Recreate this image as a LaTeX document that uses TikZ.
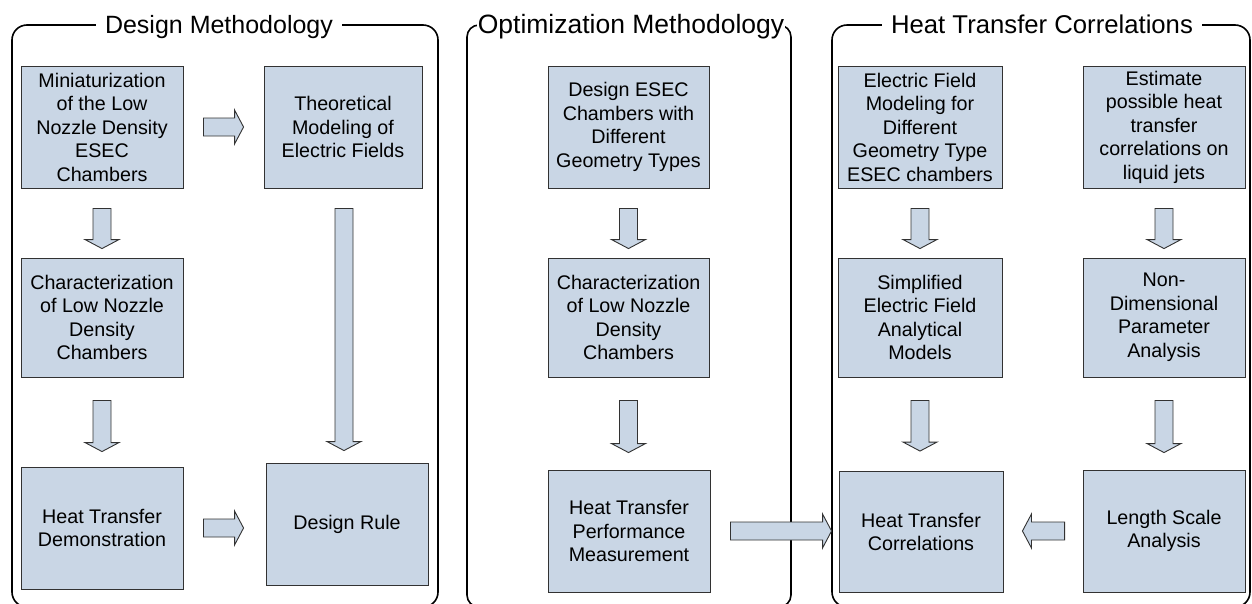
\documentclass[tikz,border=0pt]{standalone}
\usepackage{fontspec}
\setmainfont{Liberation Sans}
\usetikzlibrary{calc}

\definecolor{boxfill}{RGB}{201,214,229}
\definecolor{boxline}{RGB}{50,50,50}

\tikzset{
  panel/.style={draw=black, line width=1.6pt, rounded corners=15pt},
  paneltitle/.style={fill=white, anchor=base, inner xsep=9pt, inner ysep=2pt,
    font=\fontsize{25}{30}\selectfont},
  box/.style 2 args={draw=boxline, fill=boxfill, line width=0.9pt, align=center,
    inner sep=0pt, minimum width=#1, minimum height=#2,
    font=\fontsize{19.7}{23.5}\selectfont},
  blockarrow/.style={draw=boxline, fill=boxfill, line width=0.9pt, line join=miter}
}

% downward block arrow: body from #1 to the tip at #2 (x taken from #1)
\newcommand{\downblock}[2]{%
  \draw[blockarrow] let \p1=(#1), \p2=(#2) in
    ({\x1-9pt},\y1) -- ({\x1-9pt},{\y2+9pt}) -- ({\x1-17pt},{\y2+9pt})
    -- (\x1,\y2) -- ({\x1+17pt},{\y2+9pt}) -- ({\x1+9pt},{\y2+9pt})
    -- ({\x1+9pt},\y1) -- cycle;}

% sideways block arrow: body from #1 to the tip at #2 (y taken from #1);
% #3 = 1 points right, -1 points left
\newcommand{\sideblock}[3]{%
  \draw[blockarrow] let \p1=(#1), \p2=(#2) in
    (\x1,{\y1-9pt}) -- ({\x2-(#3)*9pt},{\y1-9pt}) -- ({\x2-(#3)*9pt},{\y1-17pt})
    -- (\x2,\y1) -- ({\x2-(#3)*9pt},{\y1+17pt}) -- ({\x2-(#3)*9pt},{\y1+9pt})
    -- (\x1,{\y1+9pt}) -- cycle;}

\begin{document}
\begin{tikzpicture}[x=1pt, y=-1pt]
\useasboundingbox (0,0) rectangle (1252,603);
\clip (0,0) rectangle (1252,603);

% panels
\draw[panel] (12,25) rectangle (438,607);
\draw[panel, rounded corners=12pt] (467,25) rectangle (791,607);
\draw[panel] (832,25) rectangle (1250,607);

\node[paneltitle] (T1) at (219,33) {Design Methodology};
\node[paneltitle, inner xsep=1pt, font=\fontsize{26.5}{30}\selectfont] (T2) at (631,33) {Optimization Methodology};
\node[paneltitle, font=\fontsize{25.7}{30}\selectfont] (T3) at (1042,33) {Heat Transfer Correlations};

% design methodology
\node[box={162pt}{122pt}] (A1) at (102,127) {Miniaturization\\of the Low\\Nozzle Density\\ESEC\\Chambers};
\node[box={158pt}{122pt}] (A2) at (343,127) {Theoretical\\Modeling of\\Electric Fields};
\node[box={162pt}{119pt}] (A3) at (102,317.5) {Characterization\\of Low Nozzle\\Density\\Chambers};
\node[box={162pt}{122pt}] (A4) at (102,528) {Heat Transfer\\Demonstration};
\node[box={162pt}{122pt}] (A5) at (347,524) {Design Rule};

% optimization methodology
\node[box={161pt}{122pt}] (B1) at (628.5,127) {Design ESEC\\Chambers with\\Different\\Geometry Types};
\node[box={161pt}{119pt}] (B2) at (628.5,317.5) {Characterization\\of Low Nozzle\\Density\\Chambers};
\node[box={162pt}{122pt}] (B3) at (629,531) {Heat Transfer\\Performance\\Measurement};

% heat transfer correlations
\node[box={164pt}{122pt}] (C1) at (920,127) {Electric Field\\Modeling for\\Different\\Geometry Type\\ESEC chambers};
\node[box={162pt}{122pt}] (C2) at (1164,127) {Estimate\\possible heat\\transfer\\correlations on\\liquid jets};
\node[box={164pt}{119pt}] (C3) at (920,317.5) {Simplified\\Electric Field\\Analytical\\Models};
\node[box={162pt}{119pt}] (C4) at (1164,317.5) {Non-\\Dimensional\\Parameter\\Analysis};
\node[box={164pt}{121pt}] (C5) at (921,532) {Heat Transfer\\Correlations};
\node[box={162pt}{122pt}] (C6) at (1164,531) {Length Scale\\Analysis};

% connectors
\sideblock{$(A1.east)+(20,0)$}{$(A2.west)+(-20,0)$}{1}
\sideblock{$(A4.east)+(20,0)$}{$(A5.west)+(-22,0)$}{1}
\downblock{$(A1.south)+(0,20)$}{$(A3.north)+(0,-9)$}
\downblock{$(A3.south)+(0,23)$}{$(A4.north)+(0,-15)$}
\downblock{$(A2.south)+(1,20)$}{$(A5.north)+(0,-12)$}

\downblock{$(B1.south)+(0,20)$}{$(B2.north)+(0,-9)$}
\downblock{$(B2.south)+(0,23)$}{$(B3.north)+(0,-17)$}
\sideblock{$(B3.east)+(20,0)$}{$(C5.west)+(-7,0)$}{1}

\downblock{$(C1.south)+(0,20)$}{$(C3.north)+(0,-9)$}
\downblock{$(C2.south)+(0,20)$}{$(C4.north)+(0,-9)$}
\downblock{$(C3.south)+(0,23)$}{$(C5.north)+(0,-20)$}
\downblock{$(C4.south)+(0,23)$}{$(C6.north)+(0,-17)$}
\sideblock{$(C6.west)+(-18,0)$}{$(C5.east)+(19,0)$}{-1}
\end{tikzpicture}
\end{document}
